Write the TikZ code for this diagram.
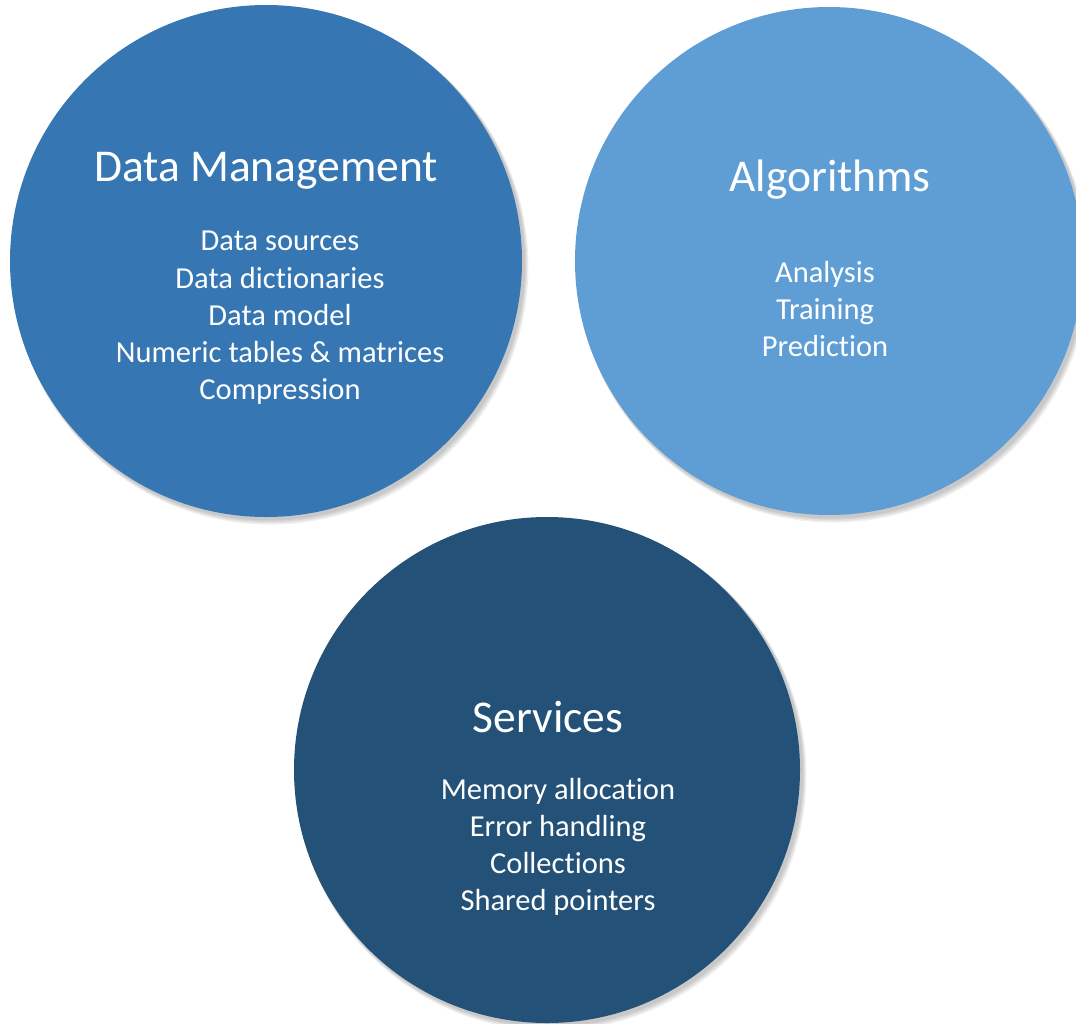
\documentclass[tikz,border=0pt]{standalone}
\usepackage{fontspec}
\setmainfont{Carlito}[Ligatures={NoCommon}]
\definecolor{dmblue}{RGB}{54,119,179}
\definecolor{alblue}{RGB}{95,158,213}
\definecolor{svblue}{RGB}{36,81,119}
\tikzset{
  bubble/.style={circle, inner sep=0pt, minimum size=#1},
  shade1/.style={fill=black, opacity=0.06},
  ttl/.style={text=white, inner sep=0pt, font=\fontsize{45.5}{54}\selectfont},
  body/.style={text=white, inner sep=0pt, align=center, font=\fontsize{30.5}{37.2}\selectfont}
}
\begin{document}
\begin{tikzpicture}[x=1pt,y=-1pt]
\useasboundingbox (0,0) rectangle (1076,1023);
% soft shadows
\foreach \d in {1,2,3,4}{
  \fill[shade1] (268+\d*0.6,263+\d*0.9) circle (256+\d*0.5);
  \fill[shade1] (831+\d*0.6,263+\d*0.9) circle (254+\d*0.5);
  \fill[shade1] (549+\d*0.6,772+\d*0.9) circle (253+\d*0.5);
}
\node[bubble=512pt, fill=dmblue] (dm) at (266,261) {};
\node[bubble=508pt, fill=alblue] (al) at (829,261) {};
\node[bubble=506pt, fill=svblue] (sv) at (547,770) {};
% texts
\node[ttl] (dmt) at (266,171) {Data Management};
\node[body] (dmb) at (280,318) {Data sources\\Data dictionaries\\Data model\\Numeric tables \& matrices\\Compression};
\node[ttl] (alt) at (830,180) {Algorithms};
\node[body] (alb) at (825,309) {Analysis\\Training\\Prediction};
\node[ttl] (svt) at (548,717) {Services};
\node[body] (svb) at (558,847) {Memory allocation\\Error handling\\Collections\\Shared pointers};
\end{tikzpicture}
\end{document}
